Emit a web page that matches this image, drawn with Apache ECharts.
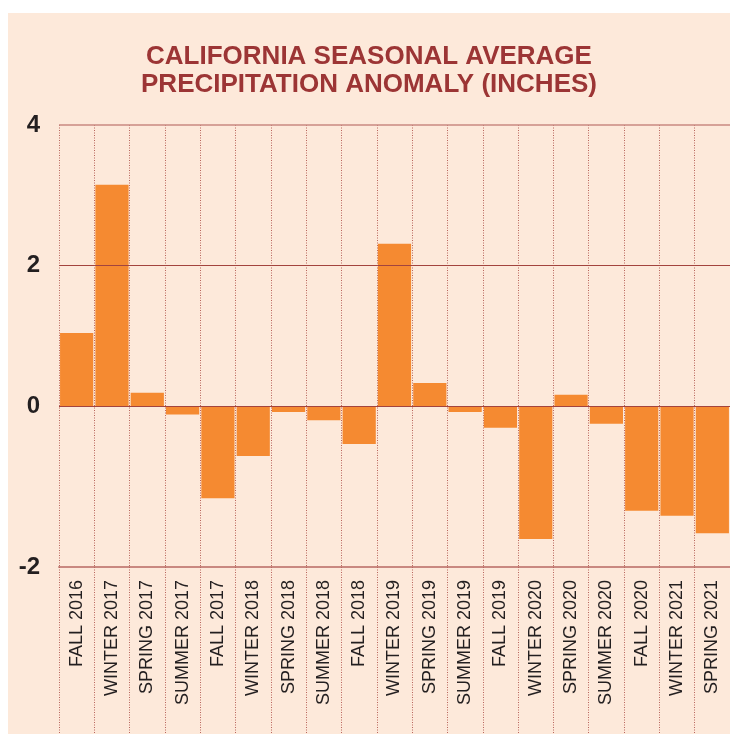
<!DOCTYPE html>
<html>
<head>
<meta charset="utf-8">
<script src="https://cdn.jsdelivr.net/npm/echarts@6/dist/echarts.min.js"></script>
<style>
  html, body { margin: 0; padding: 0; background: #ffffff; }
  #wrap { position: relative; width: 730px; height: 734px; background: #ffffff; overflow: hidden; }
  #chart { position: absolute; left: 8px; top: 13px; width: 722px; height: 721px; background: #fde9da; }
</style>
</head>
<body>
<div id="wrap"><div id="chart"></div></div>
<script>
// seasons on the x axis
var seasons = [
    'FALL 2016', 'WINTER 2017', 'SPRING 2017', 'SUMMER 2017',
    'FALL 2017', 'WINTER 2018', 'SPRING 2018', 'SUMMER 2018',
    'FALL 2018', 'WINTER 2019', 'SPRING 2019', 'SUMMER 2019',
    'FALL 2019', 'WINTER 2020', 'SPRING 2020', 'SUMMER 2020',
    'FALL 2020', 'WINTER 2021', 'SPRING 2021'
];
// anomaly in inches
var anomaly = [
    1.04, 3.15, 0.19, -0.12,
    -1.31, -0.71, -0.085, -0.2,
    -0.54, 2.31, 0.33, -0.085,
    -0.31, -1.89, 0.16, -0.25,
    -1.49, -1.56, -1.81
];
// y axis: where labels sit and what they say (bottom edge is labelled -2)
var yTickValues = [-2.29, 0, 2, 4];
var yTickLabels = ['-2', '0', '2', '4'];
var yMin = -2.29, yMax = 4;
var gridValues = [0, 2];

var myChart = echarts.init(document.getElementById('chart'));

var option = {
    animation: false,
    title: {
        text: 'CALIFORNIA SEASONAL AVERAGE\nPRECIPITATION ANOMALY (INCHES)',
        left: 'center',
        top: 25,
        textStyle: {
            color: '#9c3535',
            fontSize: 26,
            fontWeight: 'bold',
            fontFamily: 'Liberation Sans, Arial, sans-serif',
            lineHeight: 28
        }
    },
    grid: {
        left: 51,
        top: 112,
        width: 673,
        height: 442
    },
    xAxis: {
        type: 'category',
        data: seasons,
        position: 'bottom',
        axisLine: { onZero: false, lineStyle: { color: '#c98880', width: 2 } },
        axisTick: {
            show: true,
            interval: 0,
            length: 170,
            lineStyle: { color: '#b8645c', type: [1, 1.5], width: 1 }
        },
        axisLabel: {
            interval: 0,
            rotate: 90,
            margin: 13,
            fontSize: 18,
            color: '#231f20',
            fontFamily: 'Liberation Sans, Arial, sans-serif'
        },
        splitLine: {
            show: true,
            interval: 0,
            lineStyle: { color: '#b8645c', type: [1, 1.5], width: 1 }
        }
    },
    yAxis: {
        type: 'value',
        min: yMin,
        max: yMax,
        axisLine: { show: false },
        axisTick: { show: false },
        splitLine: { show: false },
        axisLabel: {
            customValues: yTickValues,
            formatter: function (v) {
                var i = yTickValues.indexOf(v);
                return i >= 0 ? yTickLabels[i] : '';
            },
            margin: 19,
            fontSize: 24,
            fontWeight: 'bold',
            color: '#231f20',
            fontFamily: 'Liberation Sans, Arial, sans-serif'
        }
    },
    series: [
        {
            type: 'bar',
            data: anomaly,
            barCategoryGap: '6%',
            itemStyle: { color: '#f58a31' },
            markLine: {
                silent: true,
                symbol: 'none',
                label: { show: false },
                lineStyle: { color: '#a3443e', type: 'solid', width: 1.2 },
                data: gridValues.map(function (v) { return { yAxis: v }; }).concat([
                    { yAxis: yMax, lineStyle: { color: '#c98880', width: 1.5, type: 'solid' } }
                ])
            }
        }
    ]
};

myChart.setOption(option);
</script>
</body>
</html>
